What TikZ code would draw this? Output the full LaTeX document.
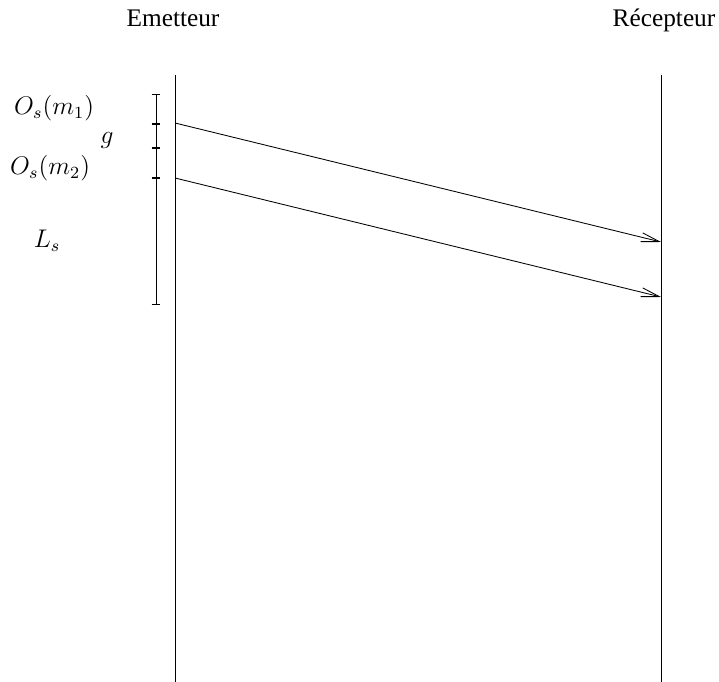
\documentclass[tikz,border=0pt]{standalone}
\usepackage{fontspec}
\setmainfont{Liberation Serif}
\usetikzlibrary{arrows.meta}
\begin{document}
\begin{tikzpicture}[x=0.47pt,y=-0.47pt,
  lbl/.style={inner sep=0pt,anchor=base,font=\fontsize{11.9}{14}\selectfont},
  mlbl/.style={inner sep=0pt,font=\fontsize{12}{14}\selectfont},
  life/.style={line width=0.45pt},
  msg/.style={line width=0.4pt,-{Straight Barb[length=8.5pt,width=4.2pt,line width=0.4pt]}},
  tick/.style={line width=0.4pt}]
\useasboundingbox (0,0) rectangle (719,682);
\node[lbl] (em) at (173,27) {Emetteur};
\node[lbl] (rec) at (664,27) {Récepteur};
\coordinate (s0) at (175,75);
\coordinate (s1) at (175,682);
\coordinate (r0) at (661,75);
\coordinate (r1) at (661,682);
\draw[life] (s0) -- (s1);
\draw[life] (r0) -- (r1);
% scale bar
\coordinate (b0) at (156,94);
\coordinate (b1) at (156,124);
\coordinate (b2) at (156,148);
\coordinate (b3) at (156,178);
\coordinate (b4) at (156,304);
\draw[tick] (b0) -- (b4);
\foreach \p in {b0,b4} \draw[tick] ([xshift=-2pt]\p) -- ([xshift=2pt]\p);
\foreach \p in {b1,b2,b3} \draw[line width=0.9pt] ([xshift=-2pt]\p) -- ([xshift=2pt]\p);
\node[mlbl] (o1) at (54,108) {$O_s(m_1)$};
\node[mlbl] (g) at (107,140) {$g$};
\node[mlbl] (o2) at (50,168) {$O_s(m_2)$};
\node[mlbl] (ls) at (47,241) {$L_s$};
% messages
\coordinate (a0) at (175,123);
\coordinate (a1) at (661,242);
\coordinate (c0) at (175,178);
\coordinate (c1) at (661,297);
\draw[msg] (a0) -- (a1);
\draw[msg] (c0) -- (c1);
\end{tikzpicture}
\end{document}
